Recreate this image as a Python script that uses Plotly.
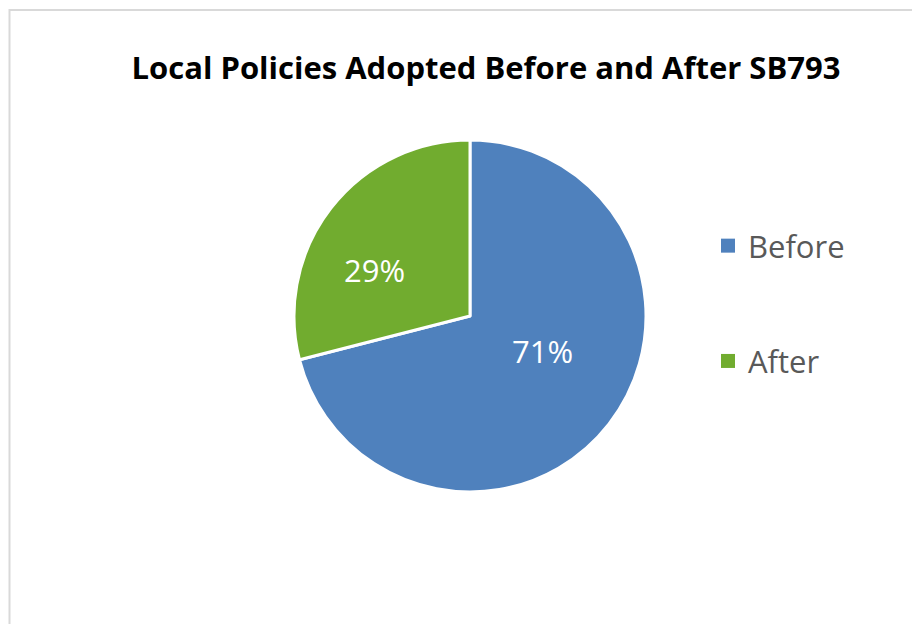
import math
import plotly.graph_objects as go

labels = ["Before", "After"]
values = [71, 29]
colors = ["#4F81BD", "#71AC2F"]
title = "Local Policies Adopted Before and After SB793"

# style constants (label placement within slices)
label_radius_frac = [0.455, 0.60]
label_angle_shift = -12.0

W, H = 920, 624
OFF = 8                     # page body margin offset in the screenshot
CX, CY, R = 470, 316, 176   # desired pie center / radius in screen px


def fx(x):
    return (x - OFF) / W


def fy(y):
    return 1 - (y - OFF) / H


fig = go.Figure()
fig.add_trace(go.Pie(
    labels=labels, values=values, sort=False, direction="clockwise", rotation=0,
    marker=dict(colors=colors, line=dict(color="white", width=3)),
    textinfo="none", hoverinfo="label+percent",
    showlegend=False,
    domain=dict(x=[fx(CX - R), fx(CX + R)], y=[fy(CY + R), fy(CY - R)]),
))
for lab, col in zip(labels, colors):
    fig.add_trace(go.Scatter(
        x=[None], y=[None], mode="markers", name=lab, legendgroup=lab,
        marker=dict(symbol="square", size=14, color=col),
    ))

total = sum(values)
annotations = []
start = 0.0
for v, frac in zip(values, label_radius_frac):
    sweep = 360.0 * v / total
    mid = math.radians(start + sweep / 2 + label_angle_shift)
    px = CX + R * frac * math.sin(mid)
    py = CY - R * frac * math.cos(mid)
    annotations.append(dict(
        x=fx(px), y=fy(py), xref="paper", yref="paper", showarrow=False,
        text=f"{round(100 * v / total)}%",
        font=dict(family="Open Sans", size=31, color="white"),
        xanchor="center", yanchor="middle",
    ))
    start += sweep

fig.update_layout(
    width=W, height=H,
    margin=dict(l=0, r=0, t=0, b=0),
    paper_bgcolor="white", plot_bgcolor="white",
    title=dict(text="<b>" + title + "</b>", x=fx(486), xanchor="center",
               y=fy(68), yanchor="middle",
               font=dict(family="Open Sans", size=31, color="black")),
    xaxis=dict(visible=False), yaxis=dict(visible=False),
    legend=dict(x=fx(708), xanchor="left", y=fy(219), yanchor="top",
                font=dict(family="Open Sans", size=31, color="#595959"),
                tracegroupgap=72, itemwidth=30),
    annotations=annotations,
    shapes=[dict(type="rect", xref="paper", yref="paper",
                 x0=1.5 / W, x1=1.2, y0=-0.2, y1=fy(10),
                 line=dict(color="#D9D9D9", width=2), fillcolor="rgba(0,0,0,0)")],
)
fig.write_html("out.html")
